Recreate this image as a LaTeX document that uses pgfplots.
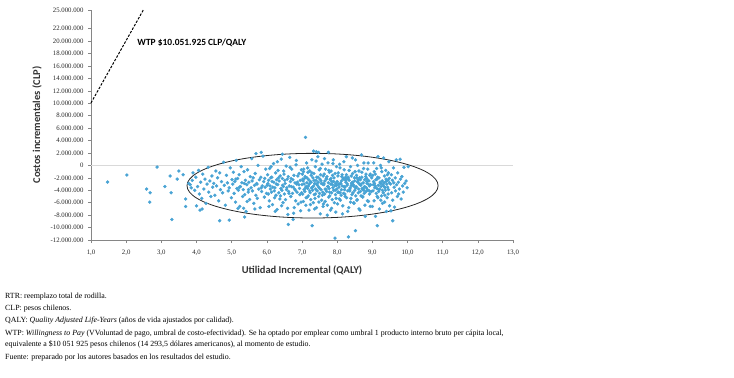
\documentclass[border=0pt]{standalone}
\usepackage{fontspec}
\setmainfont{Liberation Serif}
\newfontfamily\carlito{Carlito}
\usepackage{pgfplots}
\pgfplotsset{compat=1.18}
\definecolor{dot}{RGB}{72,163,212}
\definecolor{axgray}{RGB}{134,134,134}
\begin{document}
\begin{tikzpicture}[x=1bp,y=1bp]
\path[use as bounding box] (0,0) rectangle (734,-377);
\begin{axis}[
  at={(91bp,-240bp)}, anchor=south west,
  scale only axis, width=422bp, height=230bp,
  xmin=1, xmax=13, ymin=-12, ymax=25,
  axis x line*=bottom, axis y line*=left,
  axis line style={-, draw=axgray, line width=0.9pt},
  xtick={1,...,13},
  xticklabels={{1,0},{2,0},{3,0},{4,0},{5,0},{6,0},{7,0},{8,0},{9,0},{10,0},{11,0},{12,0},{13,0}},
  ytick={-12,-10,...,22,25},
  yticklabels={-12.000.000,-10.000.000,-8.000.000,-6.000.000,-4.000.000,-2.000.000,0,2.000.000,4.000.000,6.000.000,8.000.000,10.000.000,12.000.000,14.000.000,16.000.000,18.000.000,20.000.000,22.000.000,25.000.000},
  minor y tick num=4,
  tick align=outside,
  major tick length=3bp, minor tick length=2bp,
  every tick/.style={axgray, line width=0.6pt},
  tick label style={font=\fontsize{6.8}{7.5}\selectfont, text=black!85},
  xticklabel style={yshift=-3bp},
  yticklabel style={xshift=-1bp},
  xlabel={Utilidad Incremental (QALY)},
  ylabel={Costos incrementales (CLP)},
  label style={font=\carlito\bfseries\fontsize{10.5}{12}\selectfont, text=black!80},
  xlabel style={at={(axis description cs:0.5,-0.13)}, anchor=center},
  ylabel style={at={(axis description cs:-0.128,0.5)}, anchor=center},
  clip=false,
]
\addplot[draw=black!15, line width=0.9pt] coordinates {(1,0) (13,0)};
\addplot[black, dash pattern=on 2.5bp off 1.5bp, line width=1pt] coordinates {(1,10.051925) (2.4872,25)};
\addplot[only marks, mark=*, mark size=1.5bp, mark options={draw=dot, fill=dot}] table {
x y
1.47 -2.67
2.02 -1.55
2.58 -3.80
2.68 -4.40
2.67 -5.90
2.88 -0.27
3.10 -3.40
3.28 -4.40
3.30 -8.70
3.25 -1.70
3.50 -0.90
3.45 -2.20
3.69 -5.40
3.69 -6.60
3.62 -1.50
3.78 -2.90
3.85 -3.60
3.90 -1.20
4.00 -6.50
4.16 -7.00
4.10 -7.20
4.66 -8.90
4.93 -8.80
5.34 -6.90
5.37 -8.30
6.61 -9.50
6.75 -8.70
7.10 4.50
7.29 -9.70
7.94 -11.70
8.32 -11.50
8.52 -10.50
9.14 -9.70
9.58 -8.90
3.82 -3.1
3.88 -2.4
3.95 -4.0
3.98 -1.9
4.03 -3.4
4.06 -0.8
4.08 -4.6
4.12 -2.7
4.15 -5.3
4.18 -1.4
4.21 -3.8
4.24 -2.2
4.27 -6.1
4.30 -3.0
4.33 -0.3
4.35 -4.3
4.38 -2.5
4.41 -5.0
4.44 -1.7
4.46 -3.5
4.49 -2.9
4.52 -4.8
4.55 -0.9
4.57 -3.3
4.60 -2.0
4.63 -5.7
4.66 -1.2
4.68 -3.9
4.71 -2.6
4.74 -4.4
4.77 0.5
4.79 -3.2
4.82 -6.4
4.85 -1.6
4.88 -2.8
4.90 -4.1
4.93 -3.6
4.96 -0.4
4.99 -5.2
5.01 -2.3
5.03 -3.0
5.05 -1.1
5.07 -4.5
5.09 -2.6
5.11 -5.9
5.13 0.8
5.15 -3.7
5.17 -2.1
5.19 -4.0
5.21 -1.5
5.23 -6.6
5.25 -3.4
5.27 -0.2
5.29 -2.8
5.31 -5.0
5.33 -3.9
5.35 -1.0
5.37 -4.7
5.39 -2.4
5.41 -7.4
5.43 -3.1
5.45 -0.7
5.47 -4.3
5.49 -2.7
5.51 -5.5
5.53 -1.8
5.55 -3.6
5.57 1.1
5.59 -4.1
5.61 -2.0
5.63 -6.1
5.65 -3.2
5.67 -1.3
5.69 -4.8
5.71 -2.9
5.73 -5.3
5.75 0.0
5.77 -3.8
5.79 -2.3
5.81 -6.8
5.83 -1.9
5.85 -4.2
5.87 -3.3
5.89 1.5
5.91 -2.6
5.93 -5.1
5.95 -3.5
5.97 -0.6
5.99 -4.5
5.12 -2.2
5.22 -3.5
5.36 -2.9
5.48 -3.9
5.58 -2.5
5.72 -3.0
5.84 -3.6
5.94 -2.1
5.44 -5.8
5.66 -7.0
5.18 -6.9
5.69 1.9
5.84 2.1
6.01 -3.2
6.02 -1.5
6.04 -4.6
6.05 -2.4
6.07 -5.7
6.08 -0.5
6.10 -3.8
6.11 -2.0
6.13 -4.3
6.14 -1.9
6.16 -6.3
6.17 -3.5
6.19 0.3
6.20 -2.7
6.22 -5.2
6.23 -3.6
6.25 -1.2
6.26 -4.8
6.28 -2.3
6.29 -7.1
6.31 -3.1
6.32 -0.8
6.34 -4.4
6.35 -2.5
6.37 -5.4
6.38 -1.7
6.40 -3.7
6.41 1.0
6.43 -4.0
6.44 -2.1
6.46 -6.0
6.47 -3.4
6.49 -1.4
6.50 -4.6
6.52 -2.9
6.53 -5.5
6.55 -0.1
6.56 -3.9
6.58 -2.2
6.59 -6.9
6.61 -1.8
6.62 -4.2
6.64 -3.3
6.65 1.3
6.67 -2.6
6.68 -5.0
6.70 -3.4
6.71 -0.6
6.73 -4.5
6.74 -2.3
6.76 -7.7
6.77 -1.6
6.79 -3.8
6.80 -2.8
6.82 -5.7
6.83 0.1
6.85 -3.0
6.86 -4.3
6.88 -1.7
6.89 -6.2
6.91 -3.1
6.92 -1.3
6.94 -4.7
6.95 -2.4
6.97 -5.9
6.98 -0.7
6.03 -2.9
6.09 -3.3
6.15 -2.6
6.21 -4.1
6.27 -3.0
6.33 -2.0
6.39 -4.9
6.45 -3.2
6.51 -2.4
6.57 -3.6
6.63 -4.5
6.69 -2.1
6.75 -3.5
6.81 -4.0
6.87 -2.7
6.93 -3.7
6.99 -4.4
6.06 -6.6
6.24 -7.4
6.42 -6.5
6.60 -7.9
6.78 -6.8
6.96 -7.3
6.12 -0.2
6.30 0.6
6.48 -0.9
6.66 -0.3
6.84 0.8
6.44 1.8
7.00 -3.1
7.01 -1.4
7.02 -4.6
7.03 -2.5
7.04 -5.8
7.05 -0.6
7.06 -3.9
7.07 -2.1
7.08 -4.2
7.09 -1.8
7.11 -6.4
7.12 -3.4
7.13 0.4
7.14 -2.8
7.15 -5.1
7.16 -3.7
7.17 -1.1
7.18 -4.9
7.19 -2.3
7.20 -7.2
7.21 -3.0
7.22 -0.9
7.23 -4.4
7.24 -2.6
7.25 -5.5
7.26 -1.6
7.27 -3.6
7.28 0.9
7.30 -4.0
7.31 -2.0
7.32 -6.0
7.33 -3.3
7.34 -1.3
7.35 -4.7
7.36 -2.9
7.37 -5.3
7.38 -0.2
7.39 -3.8
7.40 -2.4
7.41 -6.8
7.42 -1.9
7.43 -4.1
7.44 -3.2
7.45 1.4
7.46 -2.7
7.47 -5.0
7.48 -3.5
7.49 -0.7
7.50 -4.5
7.51 -2.2
7.52 -7.8
7.53 -1.5
7.54 -3.9
7.55 -2.9
7.56 -5.6
7.57 0.2
7.58 -3.0
7.59 -4.3
7.60 -1.7
7.61 -6.2
7.62 -3.1
7.63 -1.4
7.64 -4.6
7.65 -2.5
7.66 -5.8
7.67 -0.6
7.68 -3.9
7.69 -2.1
7.70 -4.2
7.71 -1.8
7.72 -6.4
7.73 -3.4
7.74 0.4
7.75 -2.8
7.76 -5.1
7.77 -3.7
7.78 -1.1
7.79 -4.9
7.80 -2.3
7.81 -7.2
7.82 -3.0
7.83 -0.9
7.84 -4.4
7.85 -2.6
7.86 -5.5
7.87 -1.6
7.88 -3.6
7.89 0.9
7.90 -4.0
7.91 -2.0
7.92 -6.0
7.93 -3.3
7.94 -1.3
7.95 -4.7
7.96 -2.9
7.97 -5.3
7.98 -0.2
7.99 -3.8
7.02 -2.2
7.06 -3.0
7.10 -3.6
7.14 -2.0
7.18 -3.3
7.22 -4.1
7.26 -2.7
7.30 -3.5
7.34 -2.4
7.38 -4.6
7.42 -3.0
7.46 -1.9
7.50 -3.7
7.54 -2.5
7.58 -4.8
7.62 -2.9
7.66 -3.8
7.70 -2.2
7.74 -3.4
7.78 -4.3
7.82 -2.1
7.86 -3.1
7.90 -2.6
7.94 -4.0
7.98 -3.2
7.04 -1.0
7.16 -0.4
7.28 -1.2
7.40 0.7
7.52 -0.5
7.64 1.1
7.76 -0.8
7.88 0.3
7.12 -5.2
7.24 -6.3
7.36 -7.0
7.48 -5.9
7.60 -6.6
7.72 -8.0
7.84 -6.9
7.96 -7.5
7.33 2.3
7.41 2.2
7.47 2.1
7.75 2.1
8.00 -2.6
8.02 -4.3
8.03 -1.2
8.05 -3.5
8.06 -5.4
8.08 -0.4
8.10 -2.9
8.11 -4.8
8.13 -1.8
8.14 -3.3
8.16 -6.5
8.18 -2.1
8.19 0.6
8.21 -3.9
8.22 -4.6
8.24 -2.4
8.26 -1.5
8.27 -5.2
8.29 -3.0
8.30 -7.4
8.32 -2.2
8.34 -0.8
8.35 -4.0
8.37 -3.6
8.38 -5.9
8.40 -1.7
8.42 -2.8
8.43 1.2
8.45 -4.4
8.46 -3.1
8.48 -6.1
8.50 -2.5
8.51 -1.0
8.53 -4.9
8.54 -3.4
8.56 -5.6
8.58 0.0
8.59 -2.7
8.61 -3.8
8.62 -7.0
8.64 -2.0
8.66 -4.2
8.67 -3.2
8.69 1.7
8.70 -1.9
8.72 -5.0
8.74 -3.7
8.75 -0.5
8.77 -4.5
8.78 -2.3
8.80 -8.2
8.82 -1.4
8.83 -3.6
8.85 -2.9
8.86 -5.7
8.88 0.4
8.90 -3.1
8.91 -4.1
8.93 -1.6
8.94 -6.6
8.01 -6.2
8.023 -1.7
8.04 -4.3
8.06 -3.0
8.07 0.2
8.09 -5.6
8.10 -2.9
8.12 -3.9
8.14 -1.5
8.15 -7.8
8.17 -2.2
8.18 -4.5
8.20 -0.7
8.22 -3.5
8.23 -5.0
8.25 -2.7
8.26 1.4
8.28 -3.2
8.30 -4.1
8.31 -1.9
8.33 -6.8
8.34 -2.4
8.36 -3.8
8.38 -0.2
8.39 -5.3
8.41 -2.9
8.42 -4.7
8.44 -1.3
8.46 -3.3
8.47 -6.0
8.49 -2.0
8.50 -4.0
8.52 0.9
8.54 -3.6
8.55 -1.6
8.57 -5.5
8.58 -2.6
8.60 -4.4
8.62 -0.9
8.63 -3.0
8.65 -7.2
8.66 -2.3
8.68 -4.9
8.70 -1.1
8.71 -3.7
8.73 -5.1
8.74 -2.8
8.76 0.4
8.78 -3.4
8.79 -6.4
8.81 -1.8
8.82 -4.2
8.84 -2.1
8.86 -3.9
8.87 -0.6
8.89 -5.8
8.90 -2.5
8.92 -4.6
8.94 -1.4
8.95 -3.1
8.04 -3.0
8.12 -2.5
8.20 -3.4
8.28 -2.1
8.36 -4.1
8.44 -2.7
8.52 -3.6
8.60 -2.3
8.68 -3.0
8.76 -4.0
8.84 -2.6
8.92 -3.3
8.08 -4.4
8.24 -1.9
8.40 -3.2
8.56 -2.0
8.72 -3.9
8.88 -2.4
8.97 -4.2
8.98 -2.0
9.00 -6.6
9.01 -1.6
9.02 -4.1
9.03 -3.1
9.04 0.4
9.05 -5.7
9.06 -2.9
9.07 -3.6
9.08 -1.4
9.09 -8.2
9.10 -2.3
9.11 -4.5
9.12 -0.5
9.13 -3.7
9.14 -5.0
9.15 -1.9
9.16 1.4
9.17 -3.2
9.18 -4.2
9.19 -2.0
9.20 -7.0
9.21 -3.8
9.22 -2.7
9.23 0.0
9.24 -5.6
9.25 -3.4
9.26 -4.9
9.27 -1.0
9.28 -2.5
9.29 -6.1
9.30 -3.1
9.31 -4.4
9.32 1.2
9.33 -2.8
9.34 -1.7
9.35 -5.9
9.36 -3.6
9.37 -4.0
9.38 -0.8
9.39 -2.2
9.40 -7.4
9.41 -3.0
9.42 -5.2
9.43 -1.5
9.44 -2.4
9.45 -4.6
9.46 -3.9
9.47 0.6
9.48 -2.1
9.49 -6.5
9.035 -2.6
9.085 -3.3
9.135 -2.2
9.185 -3.9
9.235 -2.9
9.285 -4.0
9.335 -3.4
9.385 -2.6
9.435 -3.5
9.485 -2.8
9.055 -1.0
9.155 -5.2
9.255 -0.4
9.355 -4.8
9.455 -1.2
9.52 -3.0
9.54 -1.5
9.55 -4.4
9.57 -2.4
9.58 -5.6
9.60 -0.4
9.62 -3.5
9.63 -6.7
9.65 -2.0
9.66 -4.1
9.68 0.9
9.69 -3.1
9.71 -5.0
9.72 -1.2
9.74 -2.7
9.75 -4.6
9.77 -3.8
9.79 1.0
9.80 -2.2
9.82 -5.4
9.84 -1.8
9.86 -3.3
9.88 -4.3
9.90 -0.3
9.92 -2.9
9.96 -2.5
9.99 -3.6
10.02 -0.2
9.53 -7.3
9.61 -2.8
};
\draw[black!85, line width=0.8pt] (axis cs:7.3,-3.26) ellipse [x radius=3.57, y radius=5.2];
\node[anchor=west, font=\carlito\bfseries\fontsize{9.5}{11}\selectfont] at (axis cs:2.22,19.7) {WTP \$10.051.925 CLP/QALY};
\end{axis}
\begin{scope}[every node/.style={anchor=base west, inner sep=0pt, font=\fontsize{7.9}{9}\selectfont}]
\node at (5,-298) {RTR: reemplazo total de rodilla.};
\node at (5,-310.5) {CLP: pesos chilenos.};
\node at (5,-322.5) {QALY: \textit{Quality Adjusted Life-Years} (años de vida ajustados por calidad).};
\node at (5,-335) {WTP: \textit{Willingness to Pay} (VVoluntad de pago, umbral de costo-efectividad). Se ha optado por emplear como umbral 1 producto interno bruto per cápita local,};
\node at (5,-346.5) {equivalente a \$10 051 925 pesos chilenos (14 293,5 dólares americanos), al momento de estudio.};
\node at (5,-359) {Fuente: preparado por los autores basados en los resultados del estudio.};
\end{scope}
\end{tikzpicture}
\end{document}
